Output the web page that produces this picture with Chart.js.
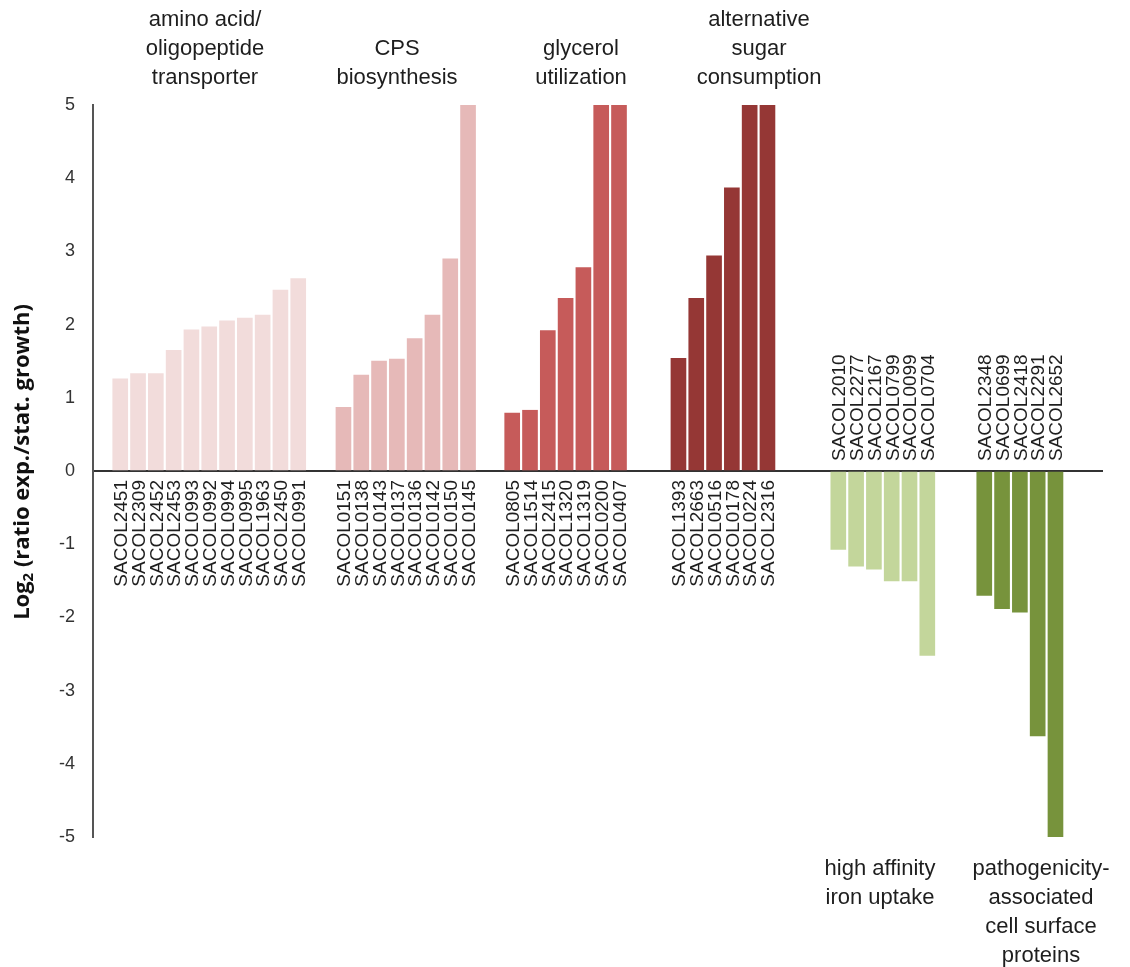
<!DOCTYPE html>
<html>
<head>
<meta charset="utf-8">
<title>Log2 expression ratio by functional group</title>
<script src="https://cdn.jsdelivr.net/npm/chart.js@4.4.1/dist/chart.umd.min.js"></script>
<style>
  html, body { margin: 0; padding: 0; background: #ffffff; }
  #wrap { width: 1130px; height: 967px; position: relative; }
  canvas { display: block; }
</style>
</head>
<body>
<div id="wrap"><canvas id="chart" width="1130" height="967"></canvas></div>
<script>
// ---- data: gene IDs and log2 ratios (exponential / stationary growth) ----
const aminoGenes = ['SACOL2451','SACOL2309','SACOL2452','SACOL2453','SACOL0993','SACOL0992','SACOL0994','SACOL0995','SACOL1963','SACOL2450','SACOL0991'];
const aminoValues = [1.26, 1.33, 1.33, 1.65, 1.93, 1.97, 2.05, 2.09, 2.13, 2.47, 2.63];

const cpsGenes = ['SACOL0151','SACOL0138','SACOL0143','SACOL0137','SACOL0136','SACOL0142','SACOL0150','SACOL0145'];
const cpsValues = [0.87, 1.31, 1.50, 1.53, 1.81, 2.13, 2.90, 5];

const glycerolGenes = ['SACOL0805','SACOL1514','SACOL2415','SACOL1320','SACOL1319','SACOL0200','SACOL0407'];
const glycerolValues = [0.79, 0.83, 1.92, 2.36, 2.78, 5, 5];

const sugarGenes = ['SACOL1393','SACOL2663','SACOL0516','SACOL0178','SACOL0224','SACOL2316'];
const sugarValues = [1.54, 2.36, 2.94, 3.87, 5, 5];

const ironGenes = ['SACOL2010','SACOL2277','SACOL2167','SACOL0799','SACOL0099','SACOL0704'];
const ironValues = [-1.07, -1.30, -1.34, -1.50, -1.50, -2.52];

const surfaceGenes = ['SACOL2348','SACOL0699','SACOL2418','SACOL2291','SACOL2652'];
const surfaceValues = [-1.70, -1.88, -1.93, -3.62, -5];

const groupTitles = [
  ['amino acid/', 'oligopeptide', 'transporter'],
  ['CPS', 'biosynthesis'],
  ['glycerol', 'utilization'],
  ['alternative', 'sugar', 'consumption'],
  ['high affinity', 'iron uptake'],
  ['pathogenicity-', 'associated', 'cell surface', 'proteins']
];

const yTicks = [5, 4, 3, 2, 1, 0, -1, -2, -3, -4, -5];

// ---- layout & style ----
const groups = [
  { genes: aminoGenes,    values: aminoValues,    color: '#F2DCDB' },
  { genes: cpsGenes,      values: cpsValues,      color: '#E6B9B8' },
  { genes: glycerolGenes, values: glycerolValues, color: '#C65B5A' },
  { genes: sugarGenes,    values: sugarValues,    color: '#953735' },
  { genes: ironGenes,     values: ironValues,     color: '#C3D69B' },
  { genes: surfaceGenes,  values: surfaceValues,  color: '#77933C' }
];
// empty space (in bar slots) left in front of each group
const groupGaps = [0, 1.54, 1.48, 2.34, 2.98, 2.2];
// title anchors: [x centre, y of first line]
const titleAnchors = [[205, 20], [397, 49], [581, 49], [759, 20], [880, 869], [1041, 869]];
const titleLineHeight = 29;

let cursor = 0;
const datasets = groups.map((g, gi) => {
  cursor += groupGaps[gi];
  const start = cursor;
  cursor += g.values.length;
  return {
    data: g.values.map((v, i) => ({ x: start + i, y: v })),
    genes: g.genes,
    backgroundColor: g.color,
    borderWidth: 0,
    barThickness: 15,
    grouped: false
  };
});

const SANS = "'Liberation Sans', Arial, Helvetica, sans-serif";

// gene IDs written vertically next to the zero line
const geneLabelPlugin = {
  id: 'geneLabels',
  afterDatasetsDraw(chart) {
    const ctx = chart.ctx;
    const zeroY = chart.scales.y.getPixelForValue(0);
    const fontSize = 19;
    const capHalf = fontSize * 0.716 / 2;
    ctx.save();
    ctx.font = fontSize + 'px ' + SANS;
    ctx.fillStyle = '#1e1e1e';
    ctx.textBaseline = 'alphabetic';
    chart.data.datasets.forEach((ds, di) => {
      const meta = chart.getDatasetMeta(di);
      meta.data.forEach((bar, i) => {
        const v = ds.data[i].y;
        ctx.save();
        if (v >= 0) {
          ctx.translate(bar.x + capHalf, zeroY + 9);
          ctx.rotate(-Math.PI / 2);
          ctx.textAlign = 'right';
        } else {
          ctx.translate(bar.x + capHalf, zeroY - 10);
          ctx.rotate(-Math.PI / 2);
          ctx.textAlign = 'left';
        }
        ctx.fillText(ds.genes[i], 0, 0);
        ctx.restore();
      });
    });
    ctx.restore();
  }
};

// functional group captions and the y axis title
const captionPlugin = {
  id: 'captions',
  afterDraw(chart) {
    const ctx = chart.ctx;
    ctx.save();
    ctx.font = '22px ' + SANS;
    ctx.fillStyle = '#1e1e1e';
    ctx.textAlign = 'center';
    ctx.textBaseline = 'middle';
    groupTitles.forEach((lines, gi) => {
      const [cx, cy] = titleAnchors[gi];
      lines.forEach((line, li) => ctx.fillText(line, cx, cy + li * titleLineHeight));
    });

    // rotated axis title with subscript 2
    const main = "bold 22px 'Open Sans', Lato, sans-serif";
    const sub = "bold 15px 'Open Sans', Lato, sans-serif";
    const p1 = 'Log', p2 = '2', p3 = ' (ratio exp./stat. growth)';
    ctx.font = main; const w1 = ctx.measureText(p1).width; const w3 = ctx.measureText(p3).width;
    ctx.font = sub; const w2 = ctx.measureText(p2).width;
    const total = w1 + w2 + w3;
    ctx.translate(23, 462);
    ctx.rotate(-Math.PI / 2);
    ctx.textAlign = 'left';
    ctx.textBaseline = 'middle';
    ctx.fillStyle = '#111';
    let x = -total / 2;
    ctx.font = main; ctx.fillText(p1, x, 0); x += w1;
    ctx.font = sub; ctx.fillText(p2, x, 6); x += w2;
    ctx.font = main; ctx.fillText(p3, x, 0);
    ctx.restore();
  }
};

new Chart(document.getElementById('chart'), {
  type: 'bar',
  data: { datasets },
  options: {
    responsive: false,
    animation: false,
    devicePixelRatio: 1,
    layout: { padding: { top: 105, bottom: 130, right: 27, left: 0 } },
    plugins: { legend: { display: false }, tooltip: { enabled: false } },
    scales: {
      x: {
        type: 'linear',
        display: false,
        offset: false,
        min: -1.53,
        max: 55.21
      },
      y: {
        min: -5,
        max: 5,
        afterFit(scale) { scale.width = 93; },
        afterBuildTicks(scale) { scale.ticks = yTicks.map(v => ({ value: v })); },
        ticks: {
          color: '#333',
          padding: 18,
          font: { family: SANS, size: 18 }
        },
        border: { display: true, color: '#555', width: 2 },
        grid: {
          drawTicks: false,
          color: c => (c.tick && c.tick.value === 0) ? '#333' : 'rgba(0,0,0,0)',
          lineWidth: 2
        }
      }
    }
  },
  plugins: [geneLabelPlugin, captionPlugin]
});
</script>
</body>
</html>
